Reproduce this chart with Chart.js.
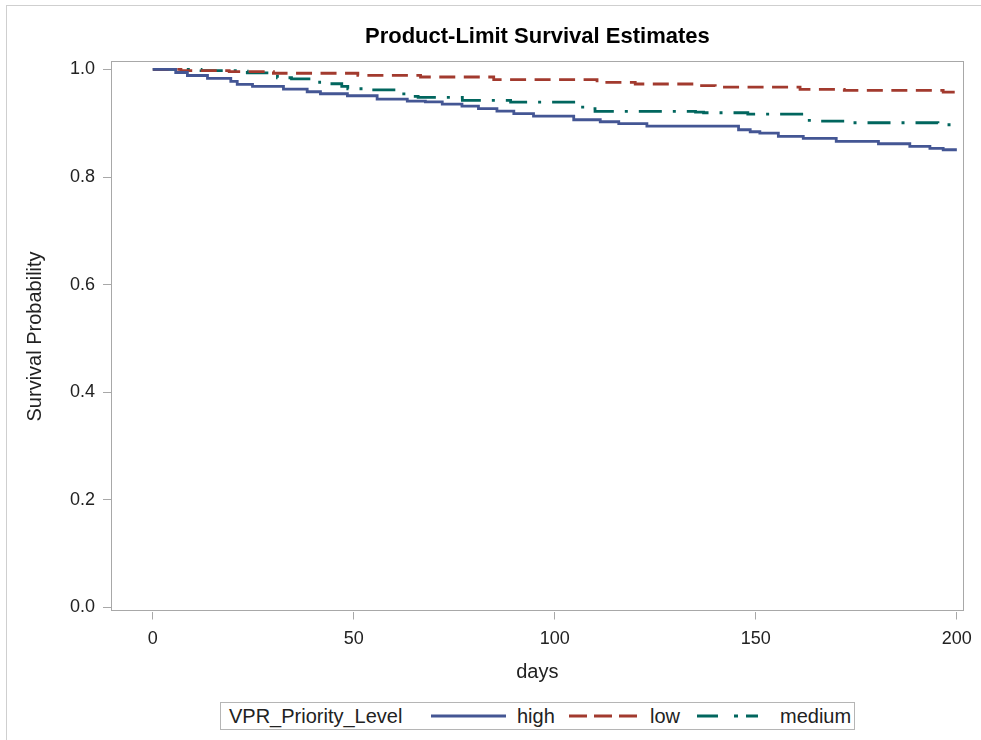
<!DOCTYPE html>
<html>
<head>
<meta charset="utf-8">
<script src="https://cdn.jsdelivr.net/npm/chart.js@4.4.1/dist/chart.umd.min.js"></script>
<style>
  body { margin: 0; background: #fff; font-family: "Liberation Sans", Arial, sans-serif; }
  #frame { position: absolute; left: 6px; top: 5px; width: 990px; height: 750px; border: 1px solid #cfcfcf; }
  #wrap { position: absolute; left: 0; top: 0; width: 981px; height: 700px; }
  #legend { position: absolute; left: 220px; top: 702px; width: 633px; height: 26px; border: 1px solid #b5b5b5;
            font-size: 20px; color: #222; white-space: nowrap; }
  #legend > * { position: absolute; top: 0; line-height: 26px; }
  #legend svg { top: 8px; }
</style>
</head>
<body>
<div id="frame"></div>
<div id="wrap"><canvas id="kmChart" width="981" height="700"></canvas></div>
<div id="legend"></div>
<script>
// Kaplan-Meier steps (day of drop, survival after drop)
const highDays = [0, 5.7, 8.6, 13.6, 19.4, 21, 24.8, 32.5, 38.4, 41.7, 48.4, 55.8, 63.3, 67.8, 72, 76.9, 81, 85.6, 89.8, 94.7, 104.7, 111.3, 115.9, 122.9, 145.7, 148.6, 151, 155.6, 161.8, 170, 180.5, 188.3, 193.3, 196.6];
const highSurv = [1.0, 0.9944, 0.9888, 0.9833, 0.9777, 0.9721, 0.9684, 0.9634, 0.9586, 0.9548, 0.9511, 0.9448, 0.9411, 0.9398, 0.9355, 0.9318, 0.927, 0.9225, 0.9177, 0.9132, 0.9065, 0.9028, 0.8991, 0.8946, 0.8879, 0.8842, 0.8816, 0.8755, 0.8717, 0.8662, 0.8619, 0.8569, 0.8532, 0.8507];

const lowDays = [0, 7, 19, 30, 51, 66.6, 84.8, 110.5, 120, 134.5, 139.9, 161, 172, 196.6];
const lowSurv = [1.0, 0.998, 0.996, 0.993, 0.989, 0.986, 0.981, 0.976, 0.973, 0.970, 0.967, 0.963, 0.961, 0.958];

const medDays = [0, 12, 21, 23.5, 31, 34.5, 41.5, 47, 48.5, 53, 61, 64, 66, 77, 89, 105.7, 108, 110, 135, 137, 148, 162.7, 166, 173.9, 195.3];
const medSurv = [1.0, 0.998, 0.997, 0.9935, 0.9846, 0.9824, 0.9734, 0.9684, 0.9641, 0.9619, 0.9545, 0.9498, 0.948, 0.9424, 0.9392, 0.930, 0.927, 0.9219, 0.9206, 0.9195, 0.9169, 0.9052, 0.904, 0.9009, 0.8972];

const lastDay = 200;
const groupNames = ['high', 'low', 'medium'];
const groupColors = ['#445694', '#A23A2E', '#01665E'];
const groupDashes = [[], [16, 8.5], [23, 11, 3, 11]];

const xTicks = [0, 50, 100, 150, 200];
const yTicks = [0.0, 0.2, 0.4, 0.6, 0.8, 1.0];

const axisGray = '#a8a8a8';
const font = '"Liberation Sans", Arial, sans-serif';

function toPoints(days, surv) {
  const pts = days.map((d, i) => ({ x: d, y: surv[i] }));
  pts.push({ x: lastDay, y: surv[surv.length - 1] });
  return pts;
}

const series = [[highDays, highSurv], [lowDays, lowSurv], [medDays, medSurv]];

// box around the plot area
const frameBox = {
  id: 'frameBox',
  afterDatasetsDraw(chart) {
    const a = chart.chartArea, ctx = chart.ctx;
    ctx.save();
    ctx.strokeStyle = axisGray;
    ctx.lineWidth = 1;
    ctx.strokeRect(Math.round(a.left) + 0.5, Math.round(a.top) + 0.5,
                   Math.round(a.right - a.left) - 1, Math.round(a.bottom - a.top) - 1);
    ctx.restore();
  }
};

new Chart(document.getElementById('kmChart'), {
  type: 'line',
  data: {
    datasets: series.map((s, i) => ({
      label: groupNames[i],
      data: toPoints(s[0], s[1]),
      stepped: 'before',
      borderColor: groupColors[i],
      borderWidth: 2.8,
      borderDash: groupDashes[i],
      borderCapStyle: 'butt',
      pointRadius: 0,
      fill: false
    }))
  },
  options: {
    responsive: false,
    animation: false,
    layout: { padding: { left: 0, right: 17, top: 0, bottom: 0 } },
    plugins: {
      legend: { display: false },
      tooltip: { enabled: false },
      title: {
        display: true,
        fullSize: false,
        text: 'Product-Limit Survival Estimates',
        color: '#000',
        font: { family: font, size: 22, weight: 'bold' },
        padding: { top: 24, bottom: 11 }
      }
    },
    scales: {
      x: {
        type: 'linear',
        min: -10.4,
        max: 201.7,
        afterBuildTicks: s => { s.ticks = xTicks.map(v => ({ value: v })); },
        afterFit: s => { s.height = 88.5; },
        border: { display: false },
        grid: { drawOnChartArea: false, drawTicks: true, tickLength: 8, tickColor: axisGray },
        ticks: { color: '#222', padding: 9, maxRotation: 0, font: { family: font, size: 18 } },
        title: { display: true, text: 'days', color: '#222', padding: { top: 16, bottom: 16 }, font: { family: font, size: 20 } }
      },
      y: {
        type: 'linear',
        min: -0.008,
        max: 1.015,
        afterBuildTicks: s => { s.ticks = yTicks.map(v => ({ value: v })); },
        afterFit: s => { s.width = 111; },
        border: { display: false },
        grid: { drawOnChartArea: false, drawTicks: true, tickLength: 8, tickColor: axisGray },
        ticks: { color: '#222', padding: 8, font: { family: font, size: 18 }, callback: v => v.toFixed(1) },
        title: { display: true, text: 'Survival Probability', color: '#222', padding: { top: 23, bottom: 0 }, font: { family: font, size: 20 } }
      }
    }
  },
  plugins: [frameBox]
});

// legend row in the style of the SAS group legend (x offsets inside the box)
const legendTitle = 'VPR_Priority_Level';
const sampleLeft = [210, 348, 476];
const sampleLen = [75, 68, 61];
const sampleDash = ['', '18 7', '21 16 4 8'];
const labelLeft = [296, 429, 559];
const legend = document.getElementById('legend');
let html = `<span style="left:8px">${legendTitle}</span>`;
groupNames.forEach((name, i) => {
  const dash = sampleDash[i] ? ` stroke-dasharray="${sampleDash[i]}"` : '';
  html += `<svg width="${sampleLen[i]}" height="10" style="left:${sampleLeft[i]}px"><line x1="0" y1="5" x2="${sampleLen[i]}" y2="5" stroke="${groupColors[i]}" stroke-width="2.8"${dash}/></svg>`;
  html += `<span style="left:${labelLeft[i]}px">${name}</span>`;
});
legend.innerHTML = html;
</script>
</body>
</html>
